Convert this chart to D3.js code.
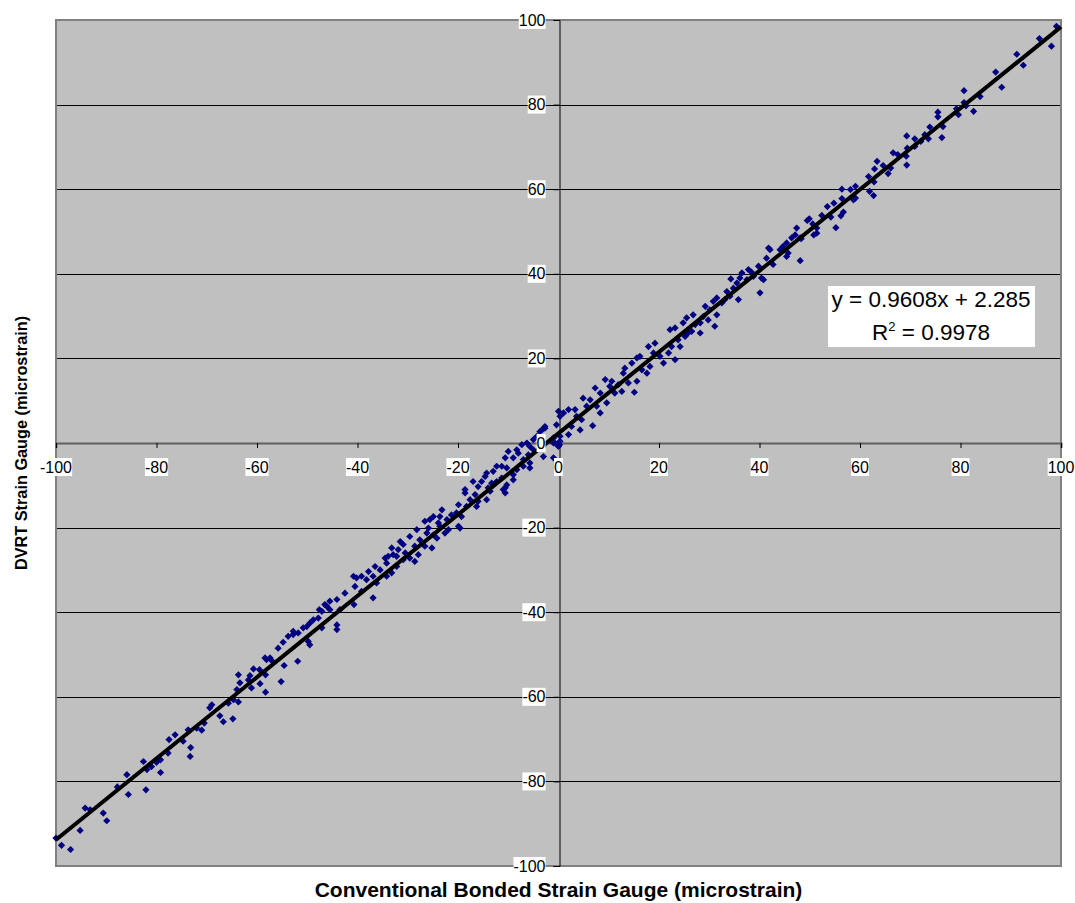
<!DOCTYPE html>
<html>
<head>
<meta charset="utf-8">
<script src="https://cdn.jsdelivr.net/npm/d3@7"></script>
<style>
	body { margin: 0; background: #fff; }
	text { font-family: Arial, "Liberation Sans", sans-serif; }
</style>
</head>
<body>
<script>
// Conventional bonded gauge readings (x) and matching DVRT readings (y), microstrain
const bonded = [
	-100.0, -98.9, -97.1, -95.2, -94.2, -93.2, -90.6, -89.9, -87.8, -85.9,
	-85.6, -82.6, -82.1, -81.9, -81.0, -80.0, -79.2, -79.2, -77.7, -77.5,
	-76.3, -74.7, -73.7, -73.2, -73.3, -72.0, -71.0, -70.5, -69.4, -69.0,
	-67.4, -66.7, -65.7, -64.8, -64.7, -64.0, -63.7, -63.7, -63.4, -61.7,
	-61.4, -61.1, -60.7, -59.4, -59.5, -58.4, -58.3, -58.3, -58.1, -57.4,
	-57.1, -55.8, -55.2, -54.8, -54.6, -53.8, -52.8, -52.8, -51.9, -51.8,
	-50.8, -50.1, -49.8, -49.5, -49.5, -48.8, -47.8, -47.6, -47.1, -47.1,
	-46.5, -46.1, -45.5, -45.5, -44.1, -44.1, -44.1, -43.5, -42.5, -40.8,
	-40.7, -40.5, -40.2, -39.2, -39.2, -38.2, -37.8, -36.9, -36.9, -36.5,
	-36.2, -35.5, -34.5, -34.2, -34.2, -33.9, -33.2, -33.2, -32.9, -32.2,
	-32.2, -31.9, -31.5, -30.9, -30.9, -30.5, -29.6, -29.6, -28.6, -28.6,
	-28.2, -27.9, -27.6, -26.6, -26.6, -26.2, -25.9, -25.6, -25.2, -24.9,
	-24.9, -24.2, -23.9, -23.6, -23.6, -23.2, -22.6, -22.2, -21.9, -21.3,
	-20.3, -19.9, -19.9, -19.6, -19.3, -18.6, -18.6, -18.3, -17.6, -17.0,
	-16.6, -16.3, -16.0, -16.0, -15.3, -14.6, -14.3, -14.3, -14.0, -13.6,
	-13.3, -13.0, -13.0, -12.3, -12.3, -11.3, -11.3, -11.0, -10.6, -10.6,
	-10.6, -10.3, -10.3, -10.0, -9.0, -9.0, -9.0, -8.3, -8.3, -8.0,
	-7.3, -7.0, -7.0, -6.3, -6.0, -5.7, -5.7, -5.7, -5.0, -5.0,
	-4.3, -3.7, -3.3, -3.1, -3.0, -2.7, -2.7, -1.0, -1.0, -1.0,
	-0.7, -0.4, 0.0, 0.0, 0.2, 0.3, 0.3, 0.3, 1.0, 2.0,
	2.0, 2.6, 3.3, 3.6, 4.3, 4.6, 4.9, 5.6, 6.3, 6.8,
	7.3, 7.6, 8.3, 8.3, 9.3, 9.6, 10.2, 10.6, 11.2, 11.9,
	12.6, 12.9, 13.2, 13.9, 14.6, 15.1, 15.6, 15.6, 16.2, 16.6,
	17.6, 17.9, 18.2, 18.9, 19.2, 20.2, 20.9, 21.9, 22.2, 22.5,
	23.2, 23.2, 23.8, 24.2, 24.8, 25.2, 25.5, 25.8, 26.5, 26.8,
	27.2, 28.2, 28.2, 28.8, 29.2, 29.8, 30.1, 30.8, 31.1, 31.5,
	31.5, 32.5, 33.1, 33.5, 34.1, 34.3, 34.8, 35.5, 35.8, 36.1,
	36.5, 37.5, 37.8, 38.4, 38.8, 39.8, 40.1, 40.4, 40.8, 41.4,
	41.8, 42.1, 42.7, 44.1, 44.7, 45.4, 45.4, 45.7, 46.4, 47.1,
	47.4, 48.1, 48.1, 48.3, 49.5, 49.9, 50.6, 50.8, 51.4, 51.4,
	52.4, 53.5, 54.2, 54.8, 55.2, 56.2, 56.4, 56.4, 56.7, 58.1,
	58.7, 59.1, 59.1, 61.7, 61.9, 62.7, 62.8, 62.9, 63.4, 64.6,
	65.6, 66.1, 66.6, 67.5, 69.2, 69.3, 69.3, 69.4, 70.9, 70.9,
	72.1, 72.9, 73.6, 73.9, 75.5, 75.5, 76.3, 76.5, 79.2, 79.6,
	80.7, 80.7, 81.1, 82.6, 83.9, 87.0, 88.2, 91.2, 92.5, 95.7,
	98.1, 99.1
];
const dvrt = [
	-93.4, -95.1, -96.1, -91.6, -86.3, -86.7, -87.5, -89.3, -81.3, -78.4,
	-83.1, -75.3, -82.0, -77.2, -76.5, -75.5, -74.9, -77.9, -73.3, -70.1,
	-69.0, -70.5, -67.8, -72.0, -74.1, -67.4, -67.9, -66.2, -62.6, -61.9,
	-64.5, -65.9, -61.5, -65.2, -60.7, -58.3, -61.2, -54.8, -56.7, -56.0,
	-55.0, -57.9, -53.4, -56.9, -53.6, -50.8, -54.8, -58.9, -51.2, -50.8,
	-51.4, -48.5, -56.4, -47.1, -52.6, -45.7, -45.3, -44.5, -51.6, -44.9,
	-43.7, -43.4, -46.9, -47.7, -42.6, -41.8, -41.4, -39.4, -39.8, -43.7,
	-38.2, -38.6, -37.4, -39.4, -44.1, -43.0, -37.0, -39.4, -35.5, -31.5,
	-38.2, -33.9, -31.9, -35.1, -31.5, -32.3, -30.4, -31.5, -36.6, -29.2,
	-33.1, -30.0, -27.2, -28.4, -31.5, -26.8, -24.8, -30.7, -26.4, -26.8,
	-29.2, -25.2, -23.3, -24.0, -27.6, -26.0, -22.1, -27.2, -24.4, -28.0,
	-20.5, -26.4, -22.9, -18.5, -24.4, -21.3, -20.1, -18.1, -24.8, -17.4,
	-21.7, -22.5, -18.9, -17.4, -19.7, -15.8, -21.3, -18.1, -20.5, -17.0,
	-16.5, -14.6, -19.7, -20.1, -17.4, -11.0, -11.8, -15.0, -13.4, -9.1,
	-12.2, -15.0, -10.3, -13.8, -9.1, -7.9, -7.1, -13.4, -10.6, -11.4,
	-9.5, -6.7, -9.9, -5.5, -9.1, -5.5, -8.3, -11.0, -3.5, -10.6,
	-11.8, -5.9, -9.9, -2.0, -3.5, -7.5, -8.7, -1.6, -6.3, -2.4,
	-0.4, -3.9, -5.5, 0.0, -2.8, -0.8, -4.7, -5.9, 0.8, -1.6,
	1.6, 2.7, 3.1, -0.8, -3.2, 3.5, 3.9, 0.0, 1.2, -3.5,
	0.0, 4.3, -0.8, 7.5, -0.4, 0.4, 1.6, 6.3, 7.1, 2.0,
	7.9, 3.9, 7.9, 6.3, 3.1, 5.5, 10.6, 8.7, 10.2, 4.1,
	13.0, 8.7, 7.1, 11.8, 15.0, 9.5, 13.4, 14.6, 11.8, 13.8,
	12.2, 16.5, 17.7, 14.2, 18.9, 12.0, 14.6, 20.1, 20.5, 17.3,
	16.5, 22.8, 18.1, 21.3, 23.6, 20.5, 18.9, 21.3, 26.8, 22.8,
	19.7, 27.2, 24.4, 22.8, 28.4, 25.2, 29.6, 26.0, 26.4, 30.3,
	28.0, 26.0, 28.4, 29.9, 32.3, 29.1, 31.5, 33.5, 27.6, 30.3,
	34.3, 33.1, 33.9, 35.8, 34.7, 38.8, 36.6, 37.8, 33.9, 39.0,
	40.2, 38.6, 41.0, 40.4, 39.4, 41.8, 35.5, 39.0, 38.6, 43.7,
	46.1, 45.7, 42.2, 45.7, 46.5, 47.3, 44.1, 44.9, 48.5, 49.2,
	50.8, 48.5, 43.1, 48.3, 52.6, 53.0, 51.8, 49.2, 50.8, 49.6,
	53.8, 55.9, 53.4, 56.7, 50.9, 53.7, 60.0, 57.8, 54.6, 59.9,
	57.5, 60.7, 57.9, 63.0, 59.5, 58.5, 61.7, 64.8, 66.6, 65.6,
	63.7, 65.0, 68.6, 68.2, 67.8, 72.6, 65.7, 69.7, 71.9, 70.1,
	71.3, 72.9, 71.9, 74.7, 78.2, 77.1, 72.2, 74.8, 79.0, 77.6,
	83.3, 80.5, 79.7, 78.4, 81.9, 87.7, 84.1, 91.9, 89.3, 95.6,
	93.8, 98.5
];

const xTicks = [-100, -80, -60, -40, -20, 0, 20, 40, 60, 80, 100];
const yTicks = [-100, -80, -60, -40, -20, 0, 20, 40, 60, 80, 100];

const trendSlope = 0.9608;
const trendIntercept = 2.285;
const rSquared = 0.9978;

const xTitle = "Conventional Bonded Strain Gauge (microstrain)";
const yTitle = "DVRT Strain Gauge (microstrain)";

const width = 1075;
const height = 903;
const plot = { left: 56, right: 1061, top: 20, bottom: 866 };

const x = d3.scaleLinear().domain([-100, 100]).range([plot.left, plot.right]);
const y = d3.scaleLinear().domain([-100, 100]).range([plot.bottom, plot.top]);

const svg = d3.select("body").append("svg")
	.attr("width", width)
	.attr("height", height);

// plot area
svg.append("rect")
	.attr("x", plot.left)
	.attr("y", plot.top)
	.attr("width", plot.right - plot.left)
	.attr("height", plot.bottom - plot.top)
	.attr("fill", "#c0c0c0");

// horizontal gridlines
svg.append("g")
	.selectAll("line")
	.data(yTicks.filter(d => d != 0 && Math.abs(d) != 100))
	.join("line")
	.attr("x1", plot.left)
	.attr("x2", plot.right)
	.attr("y1", d => Math.round(y(d)) + 0.5)
	.attr("y2", d => Math.round(y(d)) + 0.5)
	.attr("stroke", "#000")
	.attr("stroke-width", 1);

// plot border
svg.append("rect")
	.attr("x", plot.left)
	.attr("y", plot.top)
	.attr("width", plot.right - plot.left)
	.attr("height", plot.bottom - plot.top)
	.attr("fill", "none")
	.attr("stroke", "#808080")
	.attr("stroke-width", 2);

// x axis through y = 0
const xAxis = svg.append("g")
	.attr("transform", `translate(0,${Math.round(y(0))})`)
	.call(d3.axisBottom(x).tickValues(xTicks).tickSize(5).tickFormat(""));
xAxis.select(".domain").attr("stroke", "#606060").attr("stroke-width", 2);
xAxis.selectAll(".tick line").attr("stroke", "#000");

// y axis through x = 0
const yAxis = svg.append("g")
	.attr("transform", `translate(${Math.round(x(0)) + 0.5},0)`)
	.call(d3.axisLeft(y).tickValues(yTicks).tickSize(6).tickSizeOuter(6).tickFormat(""));
yAxis.select(".domain").attr("stroke", "#000");
yAxis.selectAll(".tick line").attr("stroke", "#000");

// data points
const pts = bonded.map((b, i) => [b, dvrt[i]]);
const diamond = d3.symbol().type(d3.symbolSquare).size(26);
svg.append("g")
	.selectAll("path")
	.data(pts)
	.join("path")
	.attr("d", diamond)
	.attr("transform", d => `translate(${x(d[0])},${y(d[1])}) rotate(45)`)
	.attr("fill", "#000080");

// trendline
svg.append("line")
	.attr("x1", x(-100))
	.attr("y1", y(trendSlope * -100 + trendIntercept))
	.attr("x2", x(100))
	.attr("y2", y(trendSlope * 100 + trendIntercept))
	.attr("stroke", "#000")
	.attr("stroke-width", 4);

// tick labels with white boxes
function boxedLabel(g, tx, ty, str, anchor) {
	const t = g.append("text")
		.attr("x", tx)
		.attr("y", ty)
		.attr("text-anchor", anchor)
		.attr("dominant-baseline", "central")
		.attr("font-size", 16)
		.attr("fill", "#000")
		.text(str);
	const bb = t.node().getBBox();
	g.insert("rect", "text")
		.attr("x", bb.x)
		.attr("y", ty - 9)
		.attr("width", bb.width)
		.attr("height", 18)
		.attr("fill", "#fff");
}

const labels = svg.append("g");
xTicks.forEach(d => {
	const g = labels.append("g");
	boxedLabel(g, x(d), y(0) + 24, d, "middle");
});
yTicks.forEach(d => {
	const g = labels.append("g");
	boxedLabel(g, x(0) - 13, y(d), d, "end");
});

// equation box
const eq = svg.append("g");
eq.append("rect")
	.attr("x", 828)
	.attr("y", 286)
	.attr("width", 207)
	.attr("height", 61)
	.attr("fill", "#fff");
eq.append("text")
	.attr("x", 931)
	.attr("y", 307)
	.attr("text-anchor", "middle")
	.attr("font-size", 22.5)
	.text(`y = ${trendSlope}x + ${trendIntercept}`);
const r2 = eq.append("text")
	.attr("x", 931)
	.attr("y", 340)
	.attr("text-anchor", "middle")
	.attr("font-size", 22.5);
r2.append("tspan").text("R");
r2.append("tspan").attr("font-size", 13).attr("dy", -9).text("2");
r2.append("tspan").attr("dy", 9).text(` = ${rSquared}`);

// axis titles
svg.append("text")
	.attr("x", x(0))
	.attr("y", 897)
	.attr("text-anchor", "middle")
	.attr("font-size", 21)
	.attr("font-weight", "bold")
	.text(xTitle);

svg.append("text")
	.attr("transform", `translate(27,${y(0)}) rotate(-90)`)
	.attr("text-anchor", "middle")
	.attr("font-size", 16.3)
	.attr("font-weight", "bold")
	.text(yTitle);
</script>
</body>
</html>
